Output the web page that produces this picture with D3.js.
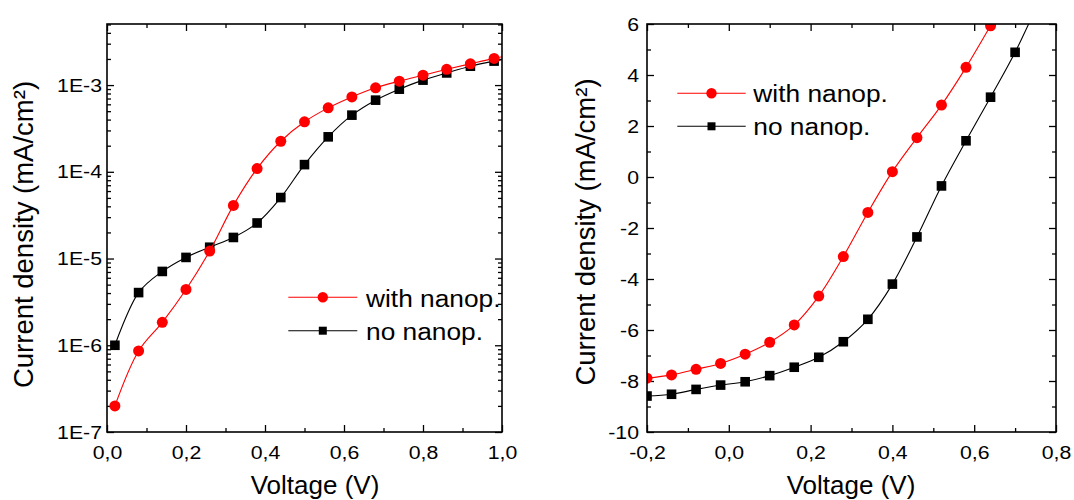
<!DOCTYPE html>
<html><head><meta charset="utf-8">
<script src="https://cdn.jsdelivr.net/npm/d3@7"></script>
<style>
body{margin:0;background:#fff}
svg{display:block}
text{font-family:"Liberation Sans",Arial,Helvetica,sans-serif;fill:#000}
</style>
</head><body>
<svg id="c" width="1074" height="500"></svg>
<script>
// ---------- data (left panel, log scale) ----------
const logVoltage = [0.02,0.08,0.14,0.20,0.26,0.32,0.38,0.44,0.50,0.56,0.62,0.68,0.74,0.80,0.86,0.92,0.98,1.04];
const logWith = [2.0e-7,8.6e-7,1.84e-6,4.4e-6,1.22e-5,4.1e-5,1.09e-4,2.25e-4,3.77e-4,5.46e-4,7.3e-4,9.3e-4,1.11e-3,1.30e-3,1.52e-3,1.76e-3,2.03e-3,2.3e-3];
const logNo = [1.0e-6,4.05e-6,7.1e-6,1.03e-5,1.35e-5,1.75e-5,2.57e-5,5.05e-5,1.21e-4,2.53e-4,4.5e-4,6.7e-4,8.97e-4,1.14e-3,1.38e-3,1.65e-3,1.89e-3,2.12e-3];
const logYTicks = [1e-7,1e-6,1e-5,1e-4,1e-3];
const logXTicks = [0,0.2,0.4,0.6,0.8,1.0];

// ---------- data (right panel, linear scale) ----------
const linVoltage = [-0.20,-0.14,-0.08,-0.02,0.04,0.10,0.16,0.22,0.28,0.34,0.40,0.46,0.52,0.58,0.64,0.70,0.76];
const linWith = [-7.89,-7.76,-7.54,-7.31,-6.95,-6.48,-5.80,-4.67,-3.12,-1.39,0.21,1.54,2.82,4.30,5.93,7.55];
const linNo = [-8.59,-8.52,-8.33,-8.16,-8.03,-7.79,-7.46,-7.07,-6.46,-5.58,-4.20,-2.35,-0.35,1.42,3.13,4.89,6.95];
const linYTicks = [-10,-8,-6,-4,-2,0,2,4,6];
const linXTicks = [-0.2,0,0.2,0.4,0.6,0.8];

const seriesNames = ["with nanop.","no nanop."];
const xTitle = "Voltage (V)";
const yTitle = "Current density (mA/cm\u00B2)";

// ---------- drawing ----------
const svg = d3.select("#c");
const SX = 1.12;
const TICKFONT = 19;
const RED = "#ff0000";

function stretchTicks(axisG){
  axisG.attr("font-family",null).attr("font-size",null);
  axisG.selectAll("text").style("font-size",TICKFONT+"px").each(function(){
    const t = d3.select(this);
    const x = +(t.attr("x")||0);
    t.attr("x", x/SX).attr("transform",`scale(${SX},1)`);
  });
}
const fmtX = d => d3.format(".1f")(d).replace("\u2212","-").replace(".",",");

function panel(o){
  const g = svg.append("g").attr("transform",`translate(${o.x0},${o.y0})`);
  const w=o.w,h=o.h, xs=o.xs, ys=o.ys;
  const cid = "clip"+o.id;
  g.append("clipPath").attr("id",cid).append("rect").attr("width",w).attr("height",h);

  const addAxis = (gen, tr, labels, pad) => {
    const a = g.append("g").attr("transform",tr).call(gen.tickSizeOuter(0).tickPadding(pad));
    a.select(".domain").remove();
    a.selectAll("line").attr("stroke","#000").attr("stroke-width",1.3);
    if(!labels) a.selectAll("text").remove(); else stretchTicks(a);
    return a;
  };
  addAxis(d3.axisBottom(xs).tickValues(o.xMajor).tickSize(-7).tickFormat(fmtX), `translate(0,${h})`, true, 14);
  addAxis(d3.axisBottom(xs).tickValues(o.xMinor).tickSize(-4).tickFormat(""), `translate(0,${h})`, false, 0);
  addAxis(d3.axisTop(xs).tickValues(o.xMajor).tickSize(-7).tickFormat(""), `translate(0,0)`, false, 0);
  addAxis(d3.axisTop(xs).tickValues(o.xMinor).tickSize(-4).tickFormat(""), `translate(0,0)`, false, 0);
  addAxis(d3.axisLeft(ys).tickValues(o.yMajor).tickSize(-7).tickFormat(o.yFmt), `translate(0,0)`, true, o.yPad);
  addAxis(d3.axisLeft(ys).tickValues(o.yMinor).tickSize(-4).tickFormat(""), `translate(0,0)`, false, 0);
  addAxis(d3.axisRight(ys).tickValues(o.yMajor).tickSize(-7).tickFormat(""), `translate(${w},0)`, false, 0);
  addAxis(d3.axisRight(ys).tickValues(o.yMinor).tickSize(-4).tickFormat(""), `translate(${w},0)`, false, 0);

  const plot = g.append("g").attr("clip-path",`url(#${cid})`);
  const line = d3.line().x(d=>xs(d[0])).y(d=>ys(d[1])).curve(d3.curveCatmullRom.alpha(0.5));
  const sNo = o.no.map((v,i)=>[o.vx[i],v]);
  const sWith = o.with.map((v,i)=>[o.vx[i],v]);
  plot.append("path").datum(sNo).attr("d",line).attr("fill","none").attr("stroke","#000").attr("stroke-width",1.1);
  plot.selectAll("rect.sq").data(sNo).join("rect").attr("class","sq")
    .attr("x",d=>xs(d[0])-4.8).attr("y",d=>ys(d[1])-4.8).attr("width",9.6).attr("height",9.6).attr("fill","#000");
  plot.append("path").datum(sWith).attr("d",line).attr("fill","none").attr("stroke",RED).attr("stroke-width",1.1);
  plot.selectAll("circle.ci").data(sWith).join("circle").attr("class","ci")
    .attr("cx",d=>xs(d[0])).attr("cy",d=>ys(d[1])).attr("r",5.5).attr("fill",RED);

  g.append("rect").attr("width",w).attr("height",h).attr("fill","none").attr("stroke","#000").attr("stroke-width",1.6);

  g.append("text").attr("x",o.xtX).attr("y",h+62).attr("text-anchor","middle").style("font-size","26px").text(xTitle);
  g.append("text").attr("transform",`translate(${o.ytX},${o.ytY}) rotate(-90)`).attr("text-anchor","middle").style("font-size","27.5px").text(yTitle);

  const L = o.leg;
  const items = [{c:RED, shape:"c"},{c:"#000", shape:"s"}];
  items.forEach((it,i)=>{
    const yy = L.y + i*L.dy;
    g.append("line").attr("x1",L.x1).attr("x2",L.x2).attr("y1",yy).attr("y2",yy).attr("stroke",it.c).attr("stroke-width",1.1);
    const cx=(L.x1+L.x2)/2;
    if(it.shape==="c") g.append("circle").attr("cx",cx).attr("cy",yy).attr("r",5.2).attr("fill",it.c);
    else g.append("rect").attr("x",cx-4).attr("y",yy-4).attr("width",8).attr("height",8).attr("fill",it.c);
    g.append("text").attr("transform",`translate(${L.tx},${yy+L.tb}) scale(${SX},1)`).style("font-size","23.5px").text(seriesNames[i]);
  });
}

(function(){
  const x0=107,y0=24,w=395,h=408;
  const xs = d3.scaleLinear().domain([0,1]).range([0,w]);
  const ys = d3.scaleLog().domain([1e-7,5.06e-3]).range([h,0]);
  const yMinor=[];
  for(let e=-7;e<=-3;e++) for(let m=2;m<=9;m++){const v=m*Math.pow(10,e); if(v<=5.06e-3) yMinor.push(v);}
  panel({id:"L",x0,y0,w,h,xs,ys,
    xMajor:logXTicks, xMinor:[0.1,0.3,0.5,0.7,0.9],
    yMajor:logYTicks, yMinor, yPad:5,
    yFmt:d=>"1E-"+Math.round(-Math.log10(d)),
    vx:logVoltage, with:logWith, no:logNo,
    xtX:208, ytX:33-x0, ytY:234.5-y0,
    leg:{x1:288.3-x0,x2:357.3-x0,y:297.3-y0,dy:33.4,tx:366-x0,tb:9.3}
  });
})();

(function(){
  const x0=647,y0=24,w=409,h=408;
  const xs = d3.scaleLinear().domain([-0.2,0.8]).range([0,w]);
  const ys = d3.scaleLinear().domain([-10,6]).range([h,0]);
  panel({id:"R",x0,y0,w,h,xs,ys,
    xMajor:linXTicks, xMinor:[-0.1,0.1,0.3,0.5,0.7],
    yMajor:linYTicks, yMinor:[-9,-7,-5,-3,-1,1,3,5], yPad:8,
    yFmt:d=>String(d),
    vx:linVoltage, with:linWith, no:linNo,
    xtX:851-x0, ytX:595-x0, ytY:232-y0,
    leg:{x1:677.3-x0,x2:745.7-x0,y:93.3-y0,dy:33,tx:753.3-x0,tb:8.7}
  });
})();
</script>
</body></html>
